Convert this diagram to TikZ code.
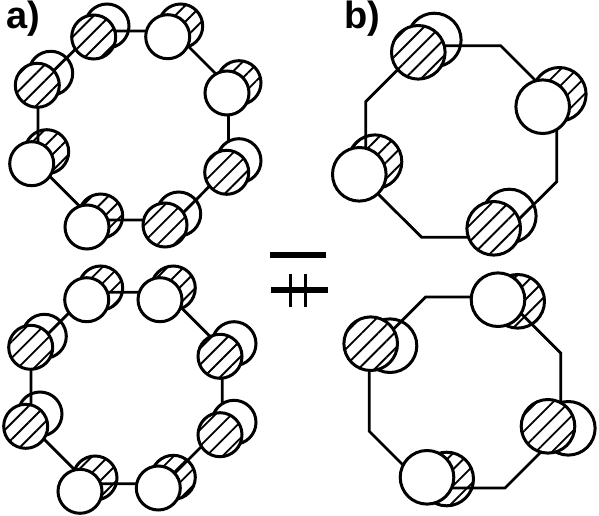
\documentclass[tikz,border=0pt]{standalone}
\usepackage{fontspec}
\setsansfont{Liberation Sans}
\usetikzlibrary{patterns.meta}
\tikzset{
  atomw/.style  = {circle, draw, line width=3pt, fill=white, inner sep=0pt, minimum size=44pt},
  atomh/.style  = {atomw, preaction={fill=white}, fill=none,
                   pattern={Lines[angle=45,distance=11.5pt,line width=1.9pt]}},
  batomw/.style = {atomw, minimum size=53.6pt},
  batomh/.style = {atomh, minimum size=53.6pt},
  wire/.style   = {line width=2.8pt},
  bar/.style    = {fill=black, inner sep=0pt, minimum width=56pt, minimum height=6.8pt},
  tick/.style   = {fill=black, inner sep=0pt, minimum width=3.2pt, minimum height=33pt},
  lab/.style    = {anchor=base west, inner sep=0pt, font=\sffamily\bfseries\fontsize{38}{38}\selectfont},
}
\begin{document}
\begin{tikzpicture}[x=1pt,y=-1pt]
  \useasboundingbox (0,0) rectangle (599,516);
  % ring corners
  \foreach \i/\x/\y in {1/94/31,2/173/31,3/228.5/86.5,4/228.5/167,5/176/220,6/93.4/220,7/38/164.6,8/38/86}
    \coordinate (a\i) at (\x,\y);
  \foreach \i/\x/\y in {1/89.4/292.3,2/165.9/292.3,3/222.3/348.7,4/222.3/425.7,5/164.3/483.7,6/88.5/483.7,7/31/426,8/31/351}
    \coordinate (c\i) at (\x,\y);
  \foreach \i/\x/\y in {1/421.7/45.7,2/500.7/45.7,3/556.7/101.7,4/556.7/181.7,5/500.7/237.3,6/421.7/237.3,7/365.7/181.7,8/365.7/101.7}
    \coordinate (b\i) at (\x,\y);
  \foreach \i/\x/\y in {1/425.7/297,2/504.7/297,3/560.7/353,4/560.7/432.3,5/505/488,6/426/488,7/369.3/431.3,8/369.3/353.3}
    \coordinate (d\i) at (\x,\y);

  % back atoms
  \foreach \n/\s/\x/\y in {ab1/atomw/107/26,ab2/atomh/180.7/26,ab3/atomh/239/82.7,ab5/atomw/178.7/214,
      ab6/atomh/100.7/216,ab7/atomh/46.7/151.7,ab8/atomw/50.7/73.3,
      cb1/atomh/100.7/288,cb2/atomh/173.3/288,cb3/atomw/234/343.7,cb5/atomh/173.3/477.3,
      cb6/atomh/95/478,cb7/atomw/40/414,cb8/atomw/44.3/336.3,
      bb1/batomw/434.3/40,bb2/batomh/559.3/94.3,bb3/batomw/509.3/216,bb4/batomh/375/161.7,
      db1/batomh/517.7/301.3,db2/batomw/568.3/428.3,db3/batomh/446.7/479,db4/batomw/390/345.7}
    \node[\s] (\n) at (\x,\y) {};

  % rings
  \foreach \r in {a,b,c,d}
    \draw[wire] (\r1) -- (\r2) -- (\r3) -- (\r4) -- (\r5) -- (\r6) -- (\r7) -- (\r8) -- cycle;

  \node[atomw] (ab4) at (239,160.7) {};
  \node[atomw] (cb4) at (234,422.3) {};

  % front atoms
  \foreach \n/\s/\x/\y in {af1/atomh/93.7/37,af2/atomw/167.7/36.7,af3/atomw/227/93,af4/atomh/226.7/172.3,
      af5/atomh/165/225,af6/atomw/87/227,af7/atomw/31.7/163.7,af8/atomh/37.3/85.3,
      cf1/atomw/86.7/299.7,cf2/atomw/160/299.7,cf3/atomh/220/356.3,cf4/atomh/220/434.7,
      cf5/atomw/158.3/488,cf6/atomw/80/491.3,cf7/atomh/25.7/426.3,cf8/atomh/30.7/347.3,
      bf1/batomh/418.3/52.3,bf2/batomw/542.7/106.7,bf3/batomh/493.7/228.3,bf4/batomw/359.3/174.3,
      df1/batomw/498/299.7,df2/batomh/548/426.3,df3/batomw/427/477.3,df4/batomh/370.7/343.7}
    \node[\s] (\n) at (\x,\y) {};

  % equal and not equal
  \node[bar] (eq) at (298,255) {};
  \node[bar, minimum width=57pt] (neq) at (299.5,290) {};
  \node[tick] (ta) at (290.7,290.8) {};
  \node[tick] (tb) at (305.3,290.8) {};

  \node[lab] (la) at (6.5,29) {a)};
  \node[lab] (lb) at (344.5,29) {b)};
\end{tikzpicture}
\end{document}
